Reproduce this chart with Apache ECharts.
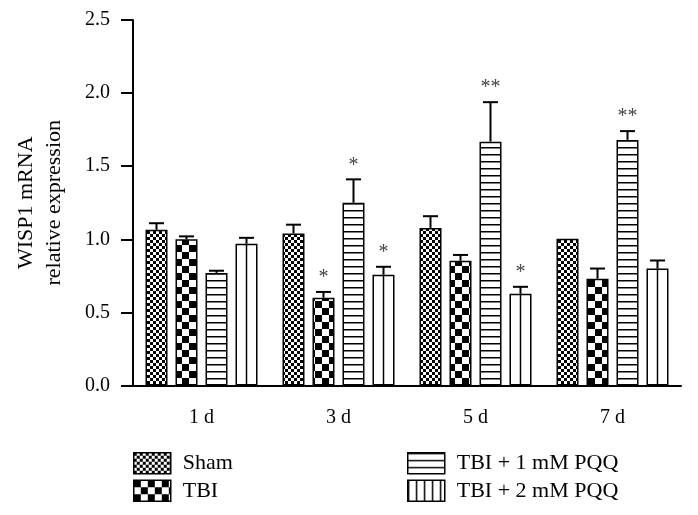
<!DOCTYPE html>
<html>
<head>
<meta charset="utf-8">
<script src="https://cdn.jsdelivr.net/npm/echarts@6/dist/echarts.min.js"></script>
<style>html,body{margin:0;padding:0;background:#fff;}#c{width:698px;height:515px;}</style>
</head>
<body>
<div id="c"></div>
<script>
const categories = ['1 d', '3 d', '5 d', '7 d'];
const seriesNames = ['Sham', 'TBI', 'TBI + 1 mM PQQ', 'TBI + 2 mM PQQ'];
const yTicks = ['0.0', '0.5', '1.0', '1.5', '2.0', '2.5'];
const shamMean = [1.065, 1.04, 1.078, 1.003];
const shamErr  = [0.045, 0.06, 0.08, 0];
const tbiMean  = [1.00, 0.60, 0.853, 0.73];
const tbiErr   = [0.02, 0.04, 0.04, 0.07];
const pqq1Mean = [0.77, 1.25, 1.668, 1.68];
const pqq1Err  = [0.015, 0.16, 0.27, 0.06];
const pqq2Mean = [0.97, 0.757, 0.627, 0.80];
const pqq2Err  = [0.04, 0.055, 0.048, 0.055];
const shamSig = ['', '', '', ''];
const tbiSig  = ['', '*', '', ''];
const pqq1Sig = ['', '*', '**', '**'];
const pqq2Sig = ['', '*', '*', ''];

const FONT = 'Liberation Serif';

function makeCanvas(w, h, draw) {
  const c = document.createElement('canvas');
  c.width = w; c.height = h;
  const ctx = c.getContext('2d');
  ctx.fillStyle = '#fff'; ctx.fillRect(0, 0, w, h);
  ctx.fillStyle = '#000';
  draw(ctx);
  return { image: c, repeat: 'repeat' };
}
const fineChecker = makeCanvas(6, 6, ctx => { ctx.fillRect(0, 0, 3, 3); ctx.fillRect(3, 3, 3, 3); });
const bigChecker = makeCanvas(14, 14, ctx => { ctx.fillRect(0, 0, 7, 7); ctx.fillRect(7, 7, 7, 7); });
const hLines = makeCanvas(4, 7, ctx => { ctx.fillRect(0, 0, 4, 1.5); });
const vLines = makeCanvas(8, 4, ctx => { ctx.fillRect(0, 0, 1.5, 4); });

const means = [shamMean, tbiMean, pqq1Mean, pqq2Mean];
const errs = [shamErr, tbiErr, pqq1Err, pqq2Err];
const sigs = [shamSig, tbiSig, pqq1Sig, pqq2Sig];
const fills = [fineChecker, bigChecker, hLines, '#fff'];
const BAR_W = 22, GAP = 8;
const offsets = [-1.5, -0.5, 0.5, 1.5].map(k => k * (BAR_W + GAP));

const series = [];
seriesNames.forEach((name, i) => {
  series.push({
    name: name, type: 'bar', barWidth: BAR_W, barGap: (GAP / BAR_W * 100) + '%',
    data: means[i],
    itemStyle: { color: fills[i], borderColor: '#000', borderWidth: 1.5 },
    emphasis: { disabled: true }, z: 2
  });
});
seriesNames.forEach((name, i) => {
  series.push({
    name: 'err' + i, type: 'custom', z: 5, silent: true,
    data: categories.map((c, j) => [j, means[i][j], errs[i][j]]),
    renderItem: function (params, api) {
      const idx = api.value(0), m = api.value(1), e = api.value(2);
      const sig = sigs[i][idx];
      const top = api.coord([idx, m + e]);
      const base = api.coord([idx, m]);
      const zero = api.coord([idx, 0]);
      const x = top[0] + offsets[i];
      const children = [];
      const st = { stroke: '#000', lineWidth: 2 };
      if (i === 3) {
        children.push({ type: 'line', shape: { x1: x, y1: zero[1], x2: x, y2: base[1] }, style: { stroke: '#000', lineWidth: 1.5 } });
      }
      if (e > 0) {
        children.push({ type: 'line', shape: { x1: x, y1: base[1], x2: x, y2: top[1] }, style: st });
        children.push({ type: 'line', shape: { x1: x - 7.5, y1: top[1], x2: x + 7.5, y2: top[1] }, style: st });
      }
      if (sig) {
        children.push({ type: 'text', style: { text: sig, x: x, y: top[1] - 14, align: 'center', verticalAlign: 'middle', fontSize: 20, fontFamily: FONT, fill: '#444' } });
      }
      return { type: 'group', children: children };
    }
  });
});

const chart = echarts.init(document.getElementById('c'), null, { renderer: 'canvas' });
const legendText = { fontSize: 22, fontFamily: FONT, color: '#000', padding: [0, 0, 0, 7] };
chart.setOption({
  animation: false,
  grid: { left: 133, right: 17, top: 20, bottom: 129.5, containLabel: false, outerBoundsMode: 'none' },
  legend: [
    { data: ['Sham', 'TBI'], orient: 'vertical', left: 133, top: 452, padding: 0, itemWidth: 37, itemHeight: 21, itemGap: 5,
      icon: 'rect', textStyle: legendText, itemStyle: { borderColor: '#000', borderWidth: 1.5 }, selectedMode: false },
    { data: ['TBI + 1 mM PQQ', { name: 'TBI + 2 mM PQQ', itemStyle: { color: vLines } }], orient: 'vertical', left: 407, top: 452, padding: 0,
      itemWidth: 37, itemHeight: 21, itemGap: 5, icon: 'rect', textStyle: legendText,
      itemStyle: { borderColor: '#000', borderWidth: 1.5 }, selectedMode: false }
  ],
  xAxis: {
    type: 'category', data: categories, boundaryGap: true,
    axisLine: { lineStyle: { color: '#000', width: 2 } },
    axisTick: { alignWithLabel: true, length: 12, lineStyle: { color: '#000', width: 2 } },
    axisLabel: { fontSize: 20, fontFamily: FONT, color: '#000', margin: 22 }
  },
  yAxis: {
    type: 'value', min: 0, max: 2.5, interval: 0.5,
    name: 'WISP1 mRNA\nrelative expression', nameLocation: 'middle', nameGap: 65, nameMoveOverlap: false,
    nameTextStyle: { fontSize: 22, fontFamily: FONT, color: '#000', lineHeight: 28 },
    axisLine: { show: true, lineStyle: { color: '#000', width: 2 } },
    axisTick: { show: true, length: 12, lineStyle: { color: '#000', width: 2 } },
    splitLine: { show: false },
    axisLabel: { fontSize: 20, fontFamily: FONT, color: '#000', margin: 23,
      formatter: v => yTicks[Math.round(v / 0.5)] }
  },
  series: series
});
</script>
</body>
</html>
